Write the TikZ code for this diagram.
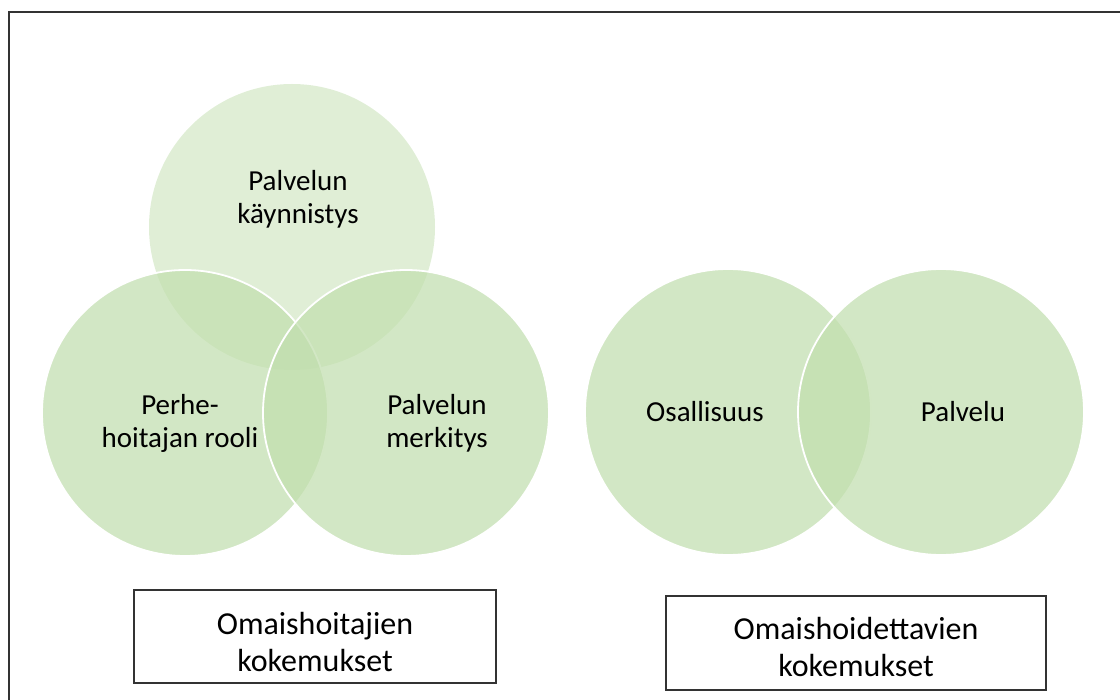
\documentclass[tikz,border=0pt]{standalone}
\usepackage{fontspec}
\setmainfont{Carlito}
\definecolor{venn}{HTML}{C1DEAE}
\definecolor{framec}{HTML}{333333}
\begin{document}
\begin{tikzpicture}[x=1pt,y=-1pt,
  vc/.style={circle, minimum size=286pt, inner sep=0pt, fill=venn, fill opacity=0.72, draw=white, line width=1.8pt},
  vtop/.style={circle, minimum size=286pt, inner sep=0pt, fill=venn, fill opacity=0.5},
  lbl/.style={align=center, font=\fontsize{29}{33}\selectfont, text=black, text opacity=1},
  boxc/.style={draw=framec, line width=1.3pt, fill=white, align=center, font=\fontsize{32}{37}\selectfont}]
\useasboundingbox (0,0) rectangle (1120,700);
\coordinate (fa) at (9,700);
\coordinate (fb) at (9,12);
\coordinate (fc) at (1120,12);
\draw[framec, line width=1.4pt] (fa) -- (fb) -- (fc);
% left venn
\node[vtop] (ctop) at (292,227) {};
\node[vc] (cleft) at (185,413) {};
\node[vc] (cright) at (406,413) {};
\node[lbl] (ttop) at (298,199) {Palvelun\\käynnistys};
\node[lbl] (tleft) at (180,423) {Perhe-\\hoitajan rooli};
\node[lbl] (tright) at (437,423) {Palvelun\\merkitys};
% right venn
\node[vc] (cosa) at (728,412) {};
\node[vc] (cpal) at (941,412) {};
\node[lbl] (tosa) at (705,412) {Osallisuus};
\node[lbl] (tpal) at (963,412) {Palvelu};
% boxes
\node[boxc, minimum width=362pt, minimum height=93pt] (b1) at (315,636.5) {};
\node[font=\fontsize{32}{37}\selectfont, align=center] (t1) at (315,642) {Omaishoitajien\\kokemukset};
\node[boxc, minimum width=380pt, minimum height=94pt] (b2) at (856,643) {};
\node[font=\fontsize{32}{37}\selectfont, align=center] (t2) at (856,647) {Omaishoidettavien\\kokemukset};
\end{tikzpicture}
\end{document}
